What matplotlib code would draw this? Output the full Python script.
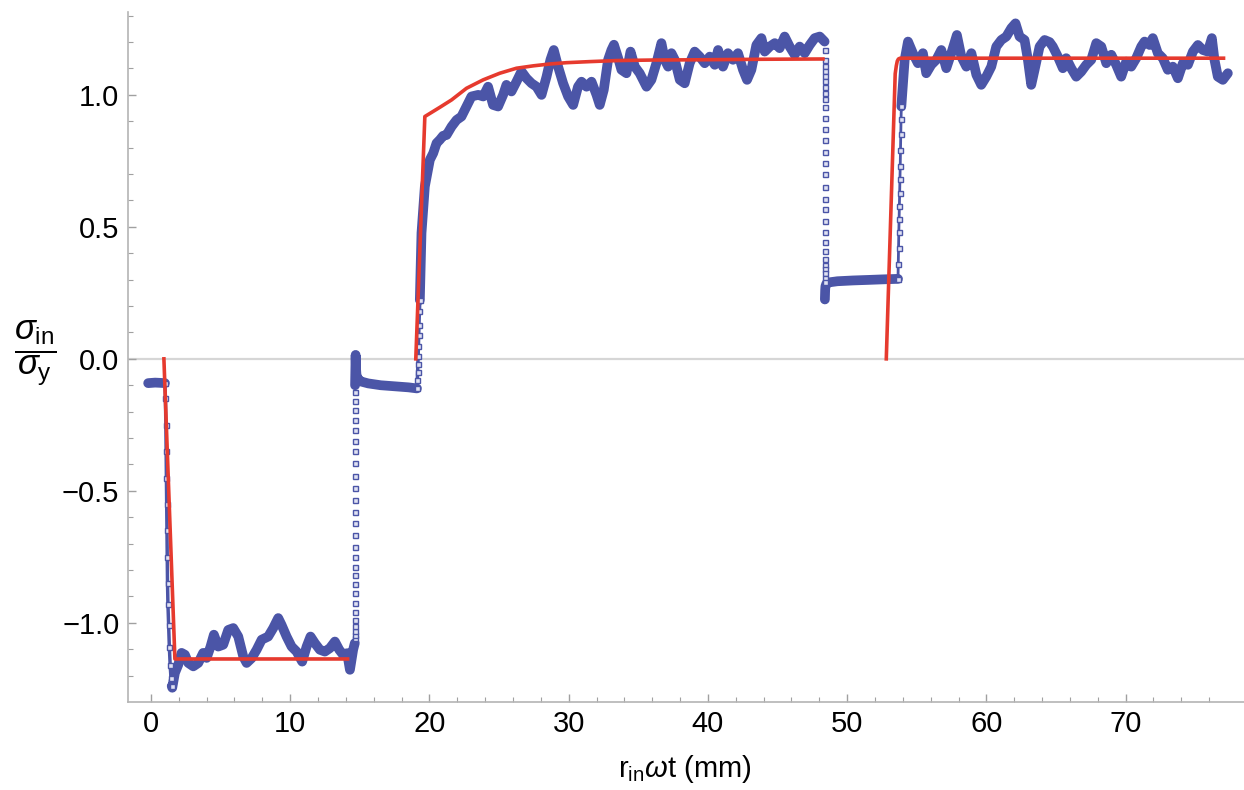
import numpy as np
import matplotlib.pyplot as plt

plt.rcParams['font.family'] = ['Liberation Sans', 'DejaVu Sans']
plt.rcParams['mathtext.fontset'] = 'custom'
plt.rcParams['mathtext.rm'] = 'Liberation Sans'
plt.rcParams['mathtext.it'] = 'Liberation Sans:italic'

# ---- measured signal (blue), read off the figure ----
# flat start before the first step
blue_start_x = [-0.2, 0.3, 0.7, 1.0]
blue_start_y = [-0.092, -0.090, -0.091, -0.092]

# fast drop to the negative plateau
drop1_x = [1.0, 1.04, 1.07, 1.09, 1.11, 1.13, 1.15, 1.17, 1.19, 1.22, 1.27, 1.32, 1.38, 1.44, 1.49]
drop1_y = [-0.09, -0.15, -0.25, -0.35, -0.45, -0.55, -0.65, -0.75, -0.85, -0.93, -1.01, -1.09, -1.16, -1.21, -1.24]

# negative plateau
low_x = [1.49, 1.53, 1.72, 1.96, 2.2, 2.44, 2.68, 3.04, 3.4, 3.75, 4.0, 4.28, 4.52, 4.83, 5.19,
         5.55, 5.91, 6.27, 6.63, 6.87, 7.23, 7.59, 7.95, 8.42, 8.78, 9.14, 9.38, 9.74, 10.1,
         10.46, 10.86, 11.18, 11.46, 11.77, 12.13, 12.49, 12.85, 13.21, 13.52, 13.8, 14.09,
         14.29, 14.52, 14.64]
low_y = [-1.24, -1.246, -1.19, -1.159, -1.114, -1.121, -1.152, -1.165, -1.152, -1.114, -1.133,
         -1.09, -1.045, -1.09, -1.083, -1.027, -1.02, -1.052, -1.128, -1.152, -1.134, -1.102,
         -1.064, -1.052, -1.02, -0.982, -1.008, -1.052, -1.09, -1.109, -1.147, -1.09, -1.052,
         -1.077, -1.102, -1.109, -1.096, -1.071, -1.102, -1.121, -1.115, -1.178, -1.102, -1.077]

# sparse samples on the step near 14.6
jump2_x = 14.62
jump2_y = [-1.058, -1.045, -1.030, -1.011, -0.989, -0.960, -0.926, -0.888, -0.854, -0.818,
           -0.787, -0.749, -0.711, -0.667, -0.620, -0.579, -0.534, -0.490, -0.443, -0.393,
           -0.348, -0.311, -0.269, -0.231, -0.193, -0.159, -0.124]

# short spike and nearly flat part just below zero
mid_x = [14.66, 14.68, 14.7, 14.72, 14.76, 14.85, 15.1, 15.6, 16.5, 17.5, 18.5, 19.1]
mid_y = [-0.10, -0.04, 0.015, -0.03, -0.06, -0.075, -0.086, -0.093, -0.100, -0.104, -0.108, -0.112]

# dense step near 19.1
jump3_x = [19.1, 19.13, 19.15, 19.17, 19.19, 19.21, 19.23, 19.25, 19.28, 19.31]
jump3_y = [-0.112, -0.08, -0.05, -0.02, 0.01, 0.05, 0.09, 0.13, 0.18, 0.223]

# rise and high plateau
high_x = [19.31, 19.43, 19.67, 20.03, 20.27, 20.51, 20.75, 20.98, 21.23, 21.59, 21.95, 22.3,
          22.66, 23.02, 23.5, 23.86, 24.21, 24.57, 24.93, 25.29, 25.53, 25.89, 26.25, 26.61,
          26.97, 27.33, 27.69, 28.05, 28.41, 28.69, 28.93, 29.24, 29.6, 29.96, 30.32, 30.67,
          30.92, 31.28, 31.64, 32.0, 32.23, 32.52, 32.83, 33.07, 33.25, 33.55, 33.79, 34.15,
          34.44, 34.75, 35.1, 35.59, 35.94, 36.3, 36.66, 36.9, 37.14, 37.38, 37.62, 37.98,
          38.33, 38.69, 39.05, 39.41, 39.77, 40.13, 40.49, 40.73, 41.08, 41.44, 41.8, 42.16,
          42.52, 42.81, 43.12, 43.48, 43.84, 44.08, 44.44, 44.8, 45.15, 45.51, 45.87, 46.23,
          46.59, 46.95, 47.31, 47.67, 48.03, 48.38]
high_y = [0.223, 0.477, 0.653, 0.754, 0.779, 0.817, 0.83, 0.845, 0.848, 0.88, 0.905, 0.918,
          0.956, 0.994, 1.0, 0.994, 1.031, 0.962, 0.956, 1.0, 1.038, 1.013, 1.05, 1.089, 1.063,
          1.044, 1.031, 1.0, 1.069, 1.133, 1.17, 1.107, 1.044, 0.994, 0.962, 1.031, 1.05, 1.031,
          1.05, 1.0, 0.962, 1.019, 1.133, 1.17, 1.19, 1.14, 1.095, 1.082, 1.164, 1.107, 1.082,
          1.031, 1.057, 1.12, 1.196, 1.133, 1.107, 1.158, 1.133, 1.057, 1.044, 1.12, 1.164,
          1.145, 1.12, 1.145, 1.114, 1.17, 1.107, 1.158, 1.133, 1.158, 1.095, 1.057, 1.095,
          1.189, 1.215, 1.164, 1.183, 1.196, 1.177, 1.221, 1.183, 1.152, 1.183, 1.158, 1.189,
          1.215, 1.221, 1.202]

# sparse samples on the drop near 48.4
jump4_x = 48.38
jump4_y = [1.170, 1.133, 1.108, 1.089, 1.070, 1.051, 1.029, 1.006, 0.984, 0.953, 0.912, 0.870,
           0.830, 0.785, 0.742, 0.701, 0.651, 0.606, 0.568, 0.521, 0.481, 0.441, 0.407, 0.378,
           0.356, 0.340, 0.325, 0.308, 0.292]

# small positive plateau
pos_x = [48.4, 48.42, 48.44, 48.5, 48.74, 49.3, 50.42, 51.5, 52.5, 53.65]
pos_y = [0.225, 0.26, 0.275, 0.284, 0.29, 0.294, 0.297, 0.299, 0.301, 0.303]

# dense step near 53.7
jump5_x = [53.65, 53.67, 53.69, 53.71, 53.73, 53.75, 53.77, 53.79, 53.81, 53.83, 53.85, 53.87, 53.89]
jump5_y = [0.303, 0.36, 0.42, 0.48, 0.53, 0.58, 0.63, 0.68, 0.73, 0.79, 0.85, 0.91, 0.956]

# last plateau
end_x = [53.89, 54.13, 54.37, 54.72, 55.08, 55.44, 55.68, 56.04, 56.4, 56.76, 57.12, 57.48,
         57.88, 58.2, 58.56, 58.92, 59.28, 59.63, 59.99, 60.35, 60.71, 61.07, 61.43, 61.79,
         62.09, 62.38, 62.74, 62.98, 63.22, 63.46, 63.82, 64.18, 64.54, 64.77, 65.13, 65.49,
         65.73, 66.09, 66.45, 66.81, 67.17, 67.53, 67.89, 68.25, 68.61, 68.97, 69.32, 69.68,
         70.04, 70.4, 70.76, 71.12, 71.36, 71.72, 71.95, 72.31, 72.67, 73.03, 73.39, 73.75,
         74.11, 74.47, 74.83, 75.19, 75.55, 75.9, 76.19, 76.38, 76.62, 76.98, 77.34]
end_y = [0.956, 1.133, 1.202, 1.158, 1.12, 1.158, 1.082, 1.114, 1.133, 1.17, 1.101, 1.158,
         1.227, 1.145, 1.107, 1.158, 1.076, 1.038, 1.069, 1.107, 1.183, 1.208, 1.221, 1.253,
         1.271, 1.221, 1.208, 1.133, 1.038, 1.095, 1.183, 1.208, 1.2, 1.183, 1.145, 1.101,
         1.139, 1.101, 1.069, 1.088, 1.114, 1.133, 1.196, 1.183, 1.12, 1.152, 1.114, 1.069,
         1.126, 1.107, 1.139, 1.183, 1.202, 1.189, 1.215, 1.158, 1.139, 1.095, 1.107, 1.063,
         1.12, 1.114, 1.164, 1.189, 1.17, 1.164, 1.215, 1.133, 1.069, 1.057, 1.082]

# ---- model curve (red) ----
red1_x = [0.93, 1.72, 14.12]
red1_y = [0.0, -1.137, -1.137]
red2_x = [19.02, 19.67, 20.75, 21.59, 22.66, 23.86, 25.05, 26.25, 27.45, 28.64, 29.84, 31.5,
          33.43, 36.0, 39.4, 44.0, 48.26]
red2_y = [0.0, 0.918, 0.953, 0.981, 1.025, 1.057, 1.082, 1.101, 1.11, 1.117, 1.122, 1.126,
          1.13, 1.132, 1.133, 1.135, 1.136]
red3_x = [52.81, 53.45, 53.53, 53.6, 53.68, 53.8, 60.0, 77.03]
red3_y = [0.0, 1.08, 1.11, 1.128, 1.136, 1.139, 1.139, 1.139]

blue = '#4b55a7'
red = '#e63a2e'
grey = '#b4b4b4'

fig = plt.figure(figsize=(12.44, 7.9), dpi=100)
ax = fig.add_axes([127.7 / 1244, 88 / 790, 1116.3 / 1244, 690 / 790])

ax.axhline(0, color='#d6d6d6', lw=1.6, zorder=0)

# thick measured trace
thick = dict(color=blue, lw=7, solid_joinstyle='round', solid_capstyle='round', zorder=2)
ax.plot(blue_start_x, blue_start_y, **thick)
ax.plot(low_x, low_y, **thick)
ax.plot(mid_x, mid_y, **thick)
ax.plot(high_x, high_y, **thick)
ax.plot(pos_x, pos_y, **thick)
ax.plot(end_x, end_y, **thick)

# steps: thin stacks of square markers
sq = dict(ls='none', marker='s', ms=3.6, mfc='#dfe1f2', mec=blue, mew=1.0, zorder=2)
ax.plot(drop1_x, drop1_y, color=blue, lw=2.5, zorder=2)
ax.plot(drop1_x, drop1_y, **sq)
ax.plot([jump2_x] * len(jump2_y), jump2_y, **sq)
ax.plot(jump3_x, jump3_y, color=blue, lw=2.5, zorder=2)
ax.plot(jump3_x, jump3_y, **sq)
ax.plot([jump4_x] * len(jump4_y), jump4_y, **sq)
ax.plot(jump5_x, jump5_y, color=blue, lw=2.0, zorder=2)
ax.plot(jump5_x, jump5_y, **sq)

# model
for rx, ry in [(red1_x, red1_y), (red2_x, red2_y), (red3_x, red3_y)]:
    ax.plot(rx, ry, color=red, lw=2.6, solid_joinstyle='round', zorder=3)

ax.set_xlim(-1.67, 78.5)
ax.set_ylim(-1.30, 1.314)

ax.set_xticks(np.arange(0, 71, 10))
ax.set_xticks(np.arange(0, 78, 2), minor=True)
ax.set_yticks([-1.0, -0.5, 0.0, 0.5, 1.0])
ax.set_yticks(np.arange(-1.2, 1.31, 0.1), minor=True)
ax.set_yticklabels(['\u22121.0', '\u22120.5', '0.0', '0.5', '1.0'])

for s in ['top', 'right']:
    ax.spines[s].set_visible(False)
for s in ['left', 'bottom']:
    ax.spines[s].set_color(grey)
    ax.spines[s].set_linewidth(1.2)

ax.tick_params(which='both', direction='in', color='#a0a0a0', labelsize=21, labelcolor='black')
ax.tick_params(which='major', length=6, width=1.0, pad=6)
ax.tick_params(which='minor', length=3.5, width=0.8)

ax.set_xlabel(r'$\mathrm{r_{in}}\omega\mathrm{t}$ (mm)', fontsize=21, va='center')
ax.xaxis.set_label_coords(0.499, -0.097)
ax.set_ylabel(r'$\dfrac{\sigma_{\mathrm{in}}}{\sigma_{\mathrm{y}}}$', fontsize=25, rotation=0,
              ha='center', va='center')
ax.yaxis.set_label_coords(-0.083, 0.505)

plt.savefig('out.png', dpi=100)
